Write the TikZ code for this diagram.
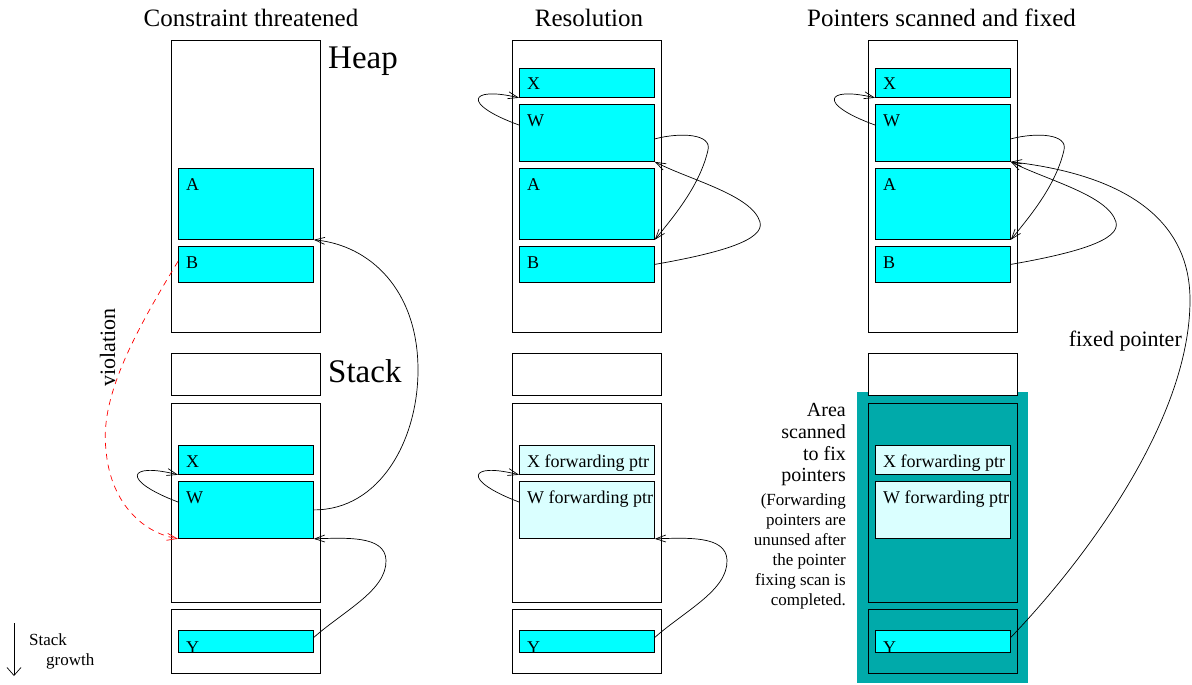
\documentclass[tikz,border=0pt]{standalone}
\usepackage{fontspec}
\setmainfont{Liberation Serif}
\usetikzlibrary{arrows.meta,calc}
\definecolor{tealarea}{RGB}{0,170,170}
\definecolor{fwdfill}{RGB}{218,255,255}
\definecolor{cellfill}{RGB}{0,255,255}
\begin{document}
\begin{tikzpicture}[x=1pt,y=-1pt,
  frame/.style={draw, line width=0.8pt, fill=white, inner sep=0pt, anchor=north west},
  cell/.style={draw, line width=0.8pt, fill=cellfill, inner sep=0pt, anchor=north west},
  fcell/.style={cell, fill=fwdfill},
  lbl/.style={anchor=base west, inner sep=0pt, font=\fontsize{18}{20}\selectfont},
  ttl/.style={anchor=base, inner sep=0pt, font=\fontsize{25}{28}\selectfont},
  big/.style={anchor=base west, inner sep=0pt, font=\fontsize{33}{36}\selectfont},
  side/.style={anchor=base east, inner sep=0pt, font=\fontsize{20}{22}\selectfont},
  sidesmall/.style={anchor=base east, inner sep=0pt, font=\fontsize{17}{19}\selectfont},
  note/.style={inner sep=0pt, font=\fontsize{22}{24}\selectfont},
  ptr/.style={line width=0.7pt, -{Straight Barb[length=10pt,width=7pt]}},
  viol/.style={ptr, red, dashed, dash pattern=on 6pt off 5pt}
]
\useasboundingbox (0,0) rectangle (1192,685);

% teal scanned area (right column)
\node[fill=tealarea, inner sep=0pt, anchor=north west, minimum width=171pt, minimum height=291pt] (area) at (857,392) {};

% outer frames
\foreach \c/\dx in {L/0, M/341, R/697} {
  \node[frame, minimum width=149pt, minimum height=292pt] (\c-heap) at (171+\dx,40) {};
  \node[frame, minimum width=149pt, minimum height=42pt] (\c-small) at (171+\dx,353) {};
}
\node[frame, minimum width=149pt, minimum height=199pt] (L-stack) at (171,403) {};
\node[frame, minimum width=149pt, minimum height=199pt] (M-stack) at (512,403) {};
\node[frame, fill=tealarea, minimum width=149pt, minimum height=199pt] (R-stack) at (868,403) {};
\node[frame, minimum width=149pt, minimum height=64pt] (L-yb) at (171,609) {};
\node[frame, minimum width=149pt, minimum height=64pt] (M-yb) at (512,609) {};
\node[frame, fill=tealarea, minimum width=149pt, minimum height=64pt] (R-yb) at (868,609) {};

% left column cells
\node[cell, minimum width=135pt, minimum height=71pt] (L-A) at (178,168) {};
\node[cell, minimum width=135pt, minimum height=36pt] (L-B) at (178,246) {};
\node[cell, minimum width=135pt, minimum height=29pt] (L-X) at (178,445) {};
\node[cell, minimum width=135pt, minimum height=57pt] (L-W) at (178,481) {};
\node[cell, minimum width=135pt, minimum height=22pt] (L-Y) at (178,630) {};

% middle and right heap cells
\foreach \c/\dx in {M/341, R/697} {
  \node[cell, minimum width=135pt, minimum height=29pt] (\c-X) at (178+\dx,68) {};
  \node[cell, minimum width=135pt, minimum height=57pt] (\c-W) at (178+\dx,104) {};
  \node[cell, minimum width=135pt, minimum height=71pt] (\c-A) at (178+\dx,168) {};
  \node[cell, minimum width=135pt, minimum height=36pt] (\c-B) at (178+\dx,246) {};
  \node[fcell, minimum width=135pt, minimum height=29pt] (\c-Xf) at (178+\dx,445) {};
  \node[fcell, minimum width=135pt, minimum height=57pt] (\c-Wf) at (178+\dx,481) {};
  \node[cell, minimum width=135pt, minimum height=22pt] (\c-Y) at (178+\dx,630) {};
  \node[lbl] (\c-Xl) at ($(\c-X.north west)+(8,22)$) {X};
  \node[lbl] (\c-Wl) at ($(\c-W.north west)+(8,22)$) {W};
  \node[lbl] (\c-Al) at ($(\c-A.north west)+(8,22)$) {A};
  \node[lbl] (\c-Bl) at ($(\c-B.north west)+(8,22)$) {B};
  \node[lbl] (\c-Xfl) at ($(\c-Xf.north west)+(8,22)$) {X forwarding ptr};
  \node[lbl] (\c-Wfl) at ($(\c-Wf.north west)+(8,22)$) {W forwarding ptr};
  \node[lbl] (\c-Yl) at ($(\c-Y.north west)+(8,23)$) {Y};
}

% left labels
\node[lbl] (L-Al) at ($(L-A.north west)+(8,22)$) {A};
\node[lbl] (L-Bl) at ($(L-B.north west)+(8,22)$) {B};
\node[lbl] (L-Xl) at ($(L-X.north west)+(8,22)$) {X};
\node[lbl] (L-Wl) at ($(L-W.north west)+(8,22)$) {W};
\node[lbl] (L-Yl) at ($(L-Y.north west)+(8,23)$) {Y};

% titles
\node[ttl] (t1) at (251,26.7) {Constraint threatened};
\node[ttl] (t2) at (589,26.7) {Resolution};
\node[ttl] (t3) at (941.5,26.7) {Pointers scanned and fixed};
\node[big] (heap) at (328,68.3) {Heap};
\node[big] (stack) at (328,382) {Stack};

% left connectors
\draw[ptr] (L-W.east) .. controls (380,510) and (418,440) .. (418,370)
  .. controls (418,290) and (370,245) .. (L-A.south east);
\draw[ptr] ($(L-W.north west)+(0,21)$) .. controls (120,480) and (128,462) .. (L-X.south west);
\draw[ptr] ($(L-Y.east)+(0,-4)$) .. controls (345,610) and (387,590) .. (386,560)
  .. controls (385,535) and (345,538) .. (L-W.south east);
\draw[viol] ($(L-B.west)+(0,-3)$) .. controls (130,340) and (100,400) .. (106,450)
  .. controls (110,500) and (140,532) .. (L-W.south west);
\node[note, rotate=90, anchor=base] (violation) at (115,347.5) {violation};

% middle and right connectors
\foreach \c/\dx in {M/341, R/697} {
  \draw[ptr] ($(\c-W.north west)+(0,21)$) .. controls (120+\dx,104) and (128+\dx,86) .. (\c-X.south west);
  \draw[ptr] ($(\c-W.east)+(0,6)$) .. controls (340+\dx,132) and (371+\dx,134) .. (367+\dx,150)
    .. controls (359+\dx,185) and (334+\dx,215) .. (\c-A.south east);
  \draw[ptr] (\c-B.east) .. controls (379+\dx,253) and (424+\dx,240) .. (419+\dx,222)
    .. controls (411+\dx,195) and (349+\dx,180) .. (\c-W.south east);
}
\draw[ptr] ($(M-Wf.north west)+(0,21)$) .. controls (461,480) and (469,462) .. (M-Xf.south west);
\draw[ptr] ($(M-Y.east)+(0,-4)$) .. controls (686,610) and (728,590) .. (727,560)
  .. controls (726,535) and (686,538) .. (M-Wf.south east);

% fixed pointer
\draw[ptr] ($(R-Y.east)+(0,-4)$) .. controls (1085,560) and (1190,420) .. (1190,300)
  .. controls (1190,205) and (1100,172) .. (R-W.south east);
\node[note, anchor=base east] (fixed) at (1182,346.7) {fixed pointer};

% side text
\foreach \t [count=\i] in {Area, scanned, to fix, pointers}
  \node[side] (sa\i) at (846,{416.7+21.7*(\i-1)}) {\t};
\foreach \t [count=\i] in {{(Forwarding}, pointers are, ununsed after, the pointer, fixing scan is, completed.}
  \node[sidesmall] (sb\i) at (846,{505+20*(\i-1)}) {\t};

% stack growth
\coordinate (g1) at (14,623);
\coordinate (g2) at (14,676);
\draw[line width=0.7pt, -{Straight Barb[length=8pt,width=14pt]}] (g1) -- (g2);
\node[anchor=base west, inner sep=0pt, font=\fontsize{17}{19}\selectfont] (sg1) at (29,645) {Stack};
\node[anchor=base west, inner sep=0pt, font=\fontsize{17}{19}\selectfont] (sg2) at (46,665) {growth};
\end{tikzpicture}
\end{document}
